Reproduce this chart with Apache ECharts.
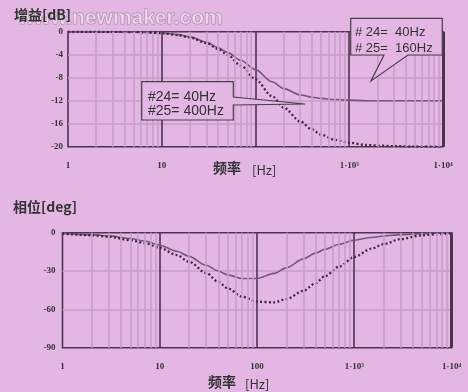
<!DOCTYPE html>
<html>
<head>
<meta charset="utf-8">
<script src="https://cdn.jsdelivr.net/npm/echarts@6/dist/echarts.min.js"></script>
<style>
  html, body { margin: 0; padding: 0; background: #e4b6e4; }
  #chart { width: 468px; height: 392px; }
</style>
</head>
<body>
<div id="chart"></div>
<script>
// Frequency points (Hz) shared by all four curves
const freq = [1, 2, 3, 5, 7, 10, 15, 20, 30, 40, 50, 70, 100, 150, 200, 300, 400, 500, 700, 1000, 1500, 2000, 3000, 5000, 7000, 10000];

// Gain [dB]: #24=40Hz / #25=160Hz (solid) and #24=40Hz / #25=400Hz (dotted)
const gain160 = [0, -0.01, -0.02, -0.06, -0.12, -0.24, -0.5, -0.9, -1.8, -2.8, -3.6, -5.0, -6.6, -8.7, -9.9, -11.0, -11.4, -11.6, -11.8, -11.9, -12, -12, -12, -12, -12, -12];
const gain400 = [0, -0.01, -0.03, -0.07, -0.13, -0.26, -0.6, -1.0, -2.0, -3.0, -4.0, -5.9, -8.3, -11.2, -13.2, -15.6, -17.0, -17.9, -18.8, -19.3, -19.7, -19.8, -19.9, -20, -20, -20];

// Phase [deg]
const phase160 = [-0.5, -1.5, -2.5, -4.5, -6.5, -9.8, -14.5, -18.5, -25.5, -30, -33, -35.8, -35.8, -31.8, -27.5, -20.5, -16, -13, -9, -5.8, -3.8, -2.6, -1.5, -0.7, -0.4, -0.2];
const phase400 = [-0.8, -2, -3.2, -5.8, -8.2, -11.8, -17.5, -22.8, -31.5, -38.5, -43.5, -50, -54, -54.5, -52, -45.5, -39.5, -34, -26.5, -19, -12.5, -9, -5, -2, -1.2, -0.6];

// Axis tick labels
const decadeValues = [1, 10, 100, 1000, 10000];
const decadeLabelsGain = ['1', '10', '', '1·10³', '1·10⁴'];
const decadeLabelsPhase = ['1', '10', '100', '1·10³', '1·10⁴'];

const BG = '#e4b6e4';
const MINOR = '#c89fca';
const MAJOR = '#4f324f';
const INK = '#333';

// minor log grid lines: 2..9 in each decade
const minorLines = [];
[1, 10, 100, 1000].forEach(d => { for (let k = 2; k <= 9; k++) minorLines.push(d * k); });

function pairs(ys) { return freq.map((f, i) => [f, ys[i]]); }

function xAxisCfg(gridIndex, labels) {
  return {
    type: 'log', logBase: 10, min: 1, max: 10000, gridIndex,
    axisLine: { show: false }, axisTick: { show: false },
    splitLine: { show: true, showMinLine: false, showMaxLine: false, lineStyle: { color: MAJOR, width: 1.6 } },
    axisLabel: {
      margin: 14, showMinLabel: true, showMaxLabel: true,
      color: INK, fontSize: 9, fontWeight: 'bold', fontFamily: 'Liberation Serif',
      formatter: v => { const i = decadeValues.indexOf(Math.round(v)); return i < 0 ? '' : labels[i]; }
    }
  };
}
function yAxisCfg(gridIndex, min, interval, margin) {
  return {
    type: 'value', min, max: 0, interval, gridIndex,
    axisLine: { show: false }, axisTick: { show: false },
    splitLine: { show: true, showMinLine: false, showMaxLine: false, lineStyle: { color: MINOR, width: 1.6 } },
    axisLabel: { margin, color: INK, fontSize: 9, fontWeight: 'bold', fontFamily: 'Liberation Serif' }
  };
}
function gridLinesSeries(idx) {
  return {
    type: 'line', xAxisIndex: idx, yAxisIndex: idx, data: [[1, 0]], symbol: 'none',
    lineStyle: { opacity: 0 }, z: 1, silent: true,
    markLine: {
      silent: true, symbol: ['none', 'none'], label: { show: false }, animation: false,
      lineStyle: { color: MINOR, width: 1.6, type: 'solid' },
      data: minorLines.map(v => ({ xAxis: v })).concat([{ xAxis: 10000, lineStyle: { color: MAJOR, width: 3, type: 'solid' } }])
    }
  };
}
function solid(idx, ys) {
  return { type: 'line', xAxisIndex: idx, yAxisIndex: idx, data: pairs(ys), symbol: 'none', smooth: 0.3, smoothMonotone: 'x', z: 3,
    lineStyle: { color: '#76577a', width: 1.6 } };
}
function dotted(idx, ys) {
  return { type: 'line', xAxisIndex: idx, yAxisIndex: idx, data: pairs(ys), symbol: 'none', smooth: 0.3, smoothMonotone: 'x', z: 4,
    lineStyle: { color: '#3d2a3e', width: 2.3, type: [2, 2.3], cap: 'butt' } };
}

const txt = (x, y, text, font, extra) => ({
  type: 'text', z: 20, style: Object.assign({ x, y, text, font, fill: INK, verticalAlign: 'middle' }, extra || {})
});

const chart = echarts.init(document.getElementById('chart'));
chart.setOption({
  backgroundColor: BG,
  animation: false,
  grid: [
    { left: 68, right: 25, top: 31.7, height: 115, show: true, borderColor: MAJOR, borderWidth: 1.6, backgroundColor: 'transparent' },
    { left: 62.5, right: 16.5, top: 232.7, height: 115, show: true, borderColor: MAJOR, borderWidth: 1.6, backgroundColor: 'transparent' }
  ],
  xAxis: [xAxisCfg(0, decadeLabelsGain), xAxisCfg(1, decadeLabelsPhase)],
  yAxis: [yAxisCfg(0, -20, 4, 5), yAxisCfg(1, -90, 30, 7)],
  series: [
    gridLinesSeries(0), gridLinesSeries(1),
    solid(0, gain160), dotted(0, gain400),
    solid(1, phase160), dotted(1, phase400)
  ],
  graphic: [
    // site watermark
    txt(18, 18, 'www.newmaker.com', 'bold 21px "Liberation Sans"', { fill: 'rgba(255,255,255,0.45)', stroke: 'rgba(120,85,120,0.5)', lineWidth: 1 }),
    txt(14, 15, '增益[dB]', 'bold 14px "Noto Sans CJK SC"'),
    txt(13, 207, '相位[deg]', 'bold 14px "Noto Sans CJK SC"'),
    txt(213, 168, '频率', 'bold 14px "Noto Sans CJK SC"'),
    txt(252, 170, '[Hz]', '13px "Noto Sans CJK SC"'),
    txt(208, 382, '频率', 'bold 14px "Noto Sans CJK SC"'),
    txt(245, 384, '[Hz]', '13px "Noto Sans CJK SC"'),
    // callout: 40 Hz / 400 Hz
    { type: 'polygon', z: 15, shape: { points: [[141.7, 81.7], [233.3, 81.7], [233.3, 97], [305, 104], [233.3, 105], [233.3, 120], [141.7, 120]] },
      style: { fill: BG, stroke: '#4a404a', lineWidth: 1.2 } },
    txt(148, 97, '#24= 40Hz', '14px "Liberation Sans"'),
    txt(148, 111, '#25= 400Hz', '14px "Liberation Sans"'),
    // callout: 40 Hz / 160 Hz
    { type: 'polygon', z: 15, shape: { points: [[350.7, 18.3], [442.3, 18.3], [442.3, 55], [408, 55], [371, 81], [384, 55], [350.7, 55]] },
      style: { fill: BG, stroke: '#4a404a', lineWidth: 1.2 } },
    txt(355, 32, '# 24=  40Hz', '13px "Liberation Sans"'),
    txt(355, 48, '# 25=  160Hz', '13px "Liberation Sans"')
  ]
});
</script>
</body>
</html>
